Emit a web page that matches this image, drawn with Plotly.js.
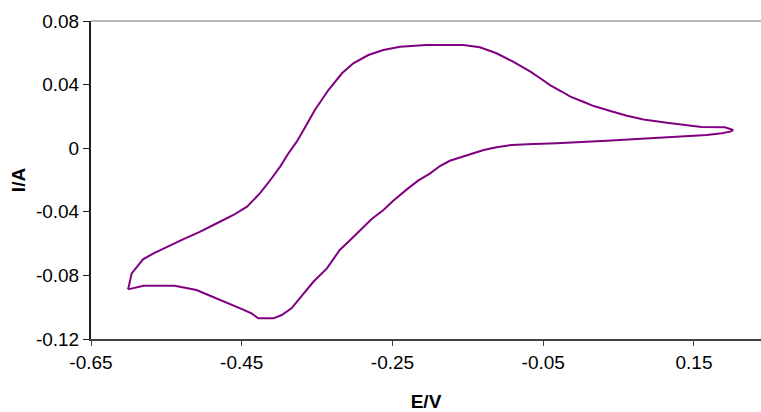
<!DOCTYPE html>
<html>
<head>
<meta charset="utf-8">
<script src="https://cdn.plot.ly/plotly-3.0.1.min.js"></script>
<style>html,body{margin:0;padding:0;background:#fff;}#chart{width:761px;height:412px;}</style>
</head>
<body>
<div id="chart"></div>
<script>
// Cyclic voltammogram: potential E (V) and current I (A), closed loop
const E = [
  -0.601, -0.580, -0.539, -0.523, -0.510, -0.492, -0.472, -0.452, -0.437, -0.428,
  -0.408, -0.397, -0.384, -0.370, -0.355, -0.337, -0.320, -0.306, -0.297, -0.278,
  -0.262, -0.249, -0.231, -0.216, -0.200, -0.187, -0.174, -0.151, -0.129, -0.112,
  -0.092, -0.063, -0.032, 0.034, 0.090, 0.136, 0.167, 0.187, 0.198, 0.202,
  0.191, 0.160, 0.136, 0.114, 0.083, 0.061, 0.039, 0.017, 0.003, -0.014,
  -0.025, -0.041, -0.054, -0.067, -0.090, -0.112, -0.134, -0.156, -0.205, -0.240,
  -0.262, -0.282, -0.302, -0.317, -0.335, -0.353, -0.368, -0.377, -0.388, -0.399,
  -0.412, -0.426, -0.443, -0.461, -0.483, -0.505, -0.528, -0.550, -0.567, -0.581,
  -0.589, -0.596, -0.600, -0.601
];
const I = [
  -0.0888, -0.0865, -0.0865, -0.0881, -0.0892, -0.0928, -0.0966, -0.1007, -0.1039, -0.1070,
  -0.1070, -0.1049, -0.1007, -0.0924, -0.0840, -0.0756, -0.0640, -0.0577, -0.0535, -0.0447,
  -0.0389, -0.0330, -0.0259, -0.0204, -0.0158, -0.0112, -0.0079, -0.0043, -0.0011, 0.0006,
  0.0020, 0.0026, 0.0031, 0.0047, 0.0062, 0.0072, 0.0083, 0.0094, 0.0104, 0.0114,
  0.0131, 0.0133, 0.0146, 0.0160, 0.0181, 0.0204, 0.0234, 0.0265, 0.0292, 0.0324,
  0.0355, 0.0397, 0.0440, 0.0481, 0.0544, 0.0597, 0.0635, 0.0649, 0.0649, 0.0638,
  0.0618, 0.0586, 0.0534, 0.0471, 0.0366, 0.0240, 0.0114, 0.0041, -0.0032, -0.0116,
  -0.0200, -0.0284, -0.0368, -0.0420, -0.0472, -0.0525, -0.0573, -0.0620, -0.0661, -0.0699,
  -0.0745, -0.0787, -0.0871, -0.0888
];
const xTicks = [-0.65, -0.45, -0.25, -0.05, 0.15];
const xTickLabels = ["-0.65", "-0.45", "-0.25", "-0.05", "0.15"];
const yTicks = [-0.12, -0.08, -0.04, 0, 0.04, 0.08];
const yTickLabels = ["-0.12", "-0.08", "-0.04", "0", "0.04", "0.08"];

const font = {family: "Liberation Sans, Arial, sans-serif", size: 19, color: "#000"};

Plotly.newPlot("chart", [{
  x: E, y: I, type: "scatter", mode: "lines",
  line: {color: "#800080", width: 2},
  hoverinfo: "skip"
}], {
  width: 761, height: 412,
  margin: {l: 91, r: 0, t: 21, b: 73, pad: 0},
  paper_bgcolor: "#fff", plot_bgcolor: "#fff",
  showlegend: false,
  font: font,
  xaxis: {
    range: [-0.65, 0.2389], tickvals: xTicks, ticktext: xTickLabels,
    showgrid: false, zeroline: false, showline: true, linecolor: "#404040", linewidth: 2,
    ticks: "outside", ticklen: 5, tickcolor: "#404040", tickwidth: 1,
    tickfont: font,
    title: {text: "<b>E/V</b>", font: font, standoff: 24}
  },
  yaxis: {
    range: [-0.12, 0.08], tickvals: yTicks, ticktext: yTickLabels,
    showgrid: false, zeroline: false, showline: true, linecolor: "#202020", linewidth: 2,
    ticks: "outside", ticklen: 6, tickcolor: "#202020", tickwidth: 1,
    tickfont: font,
    title: {text: "<b>I/A</b>", font: font, standoff: 5}
  },
  shapes: [{type: "line", xref: "paper", yref: "paper", x0: 0, x1: 1, y0: 1, y1: 1,
            line: {color: "#a0a0a0", width: 1.5}}]
}, {staticPlot: true, displayModeBar: false});
</script>
</body>
</html>
